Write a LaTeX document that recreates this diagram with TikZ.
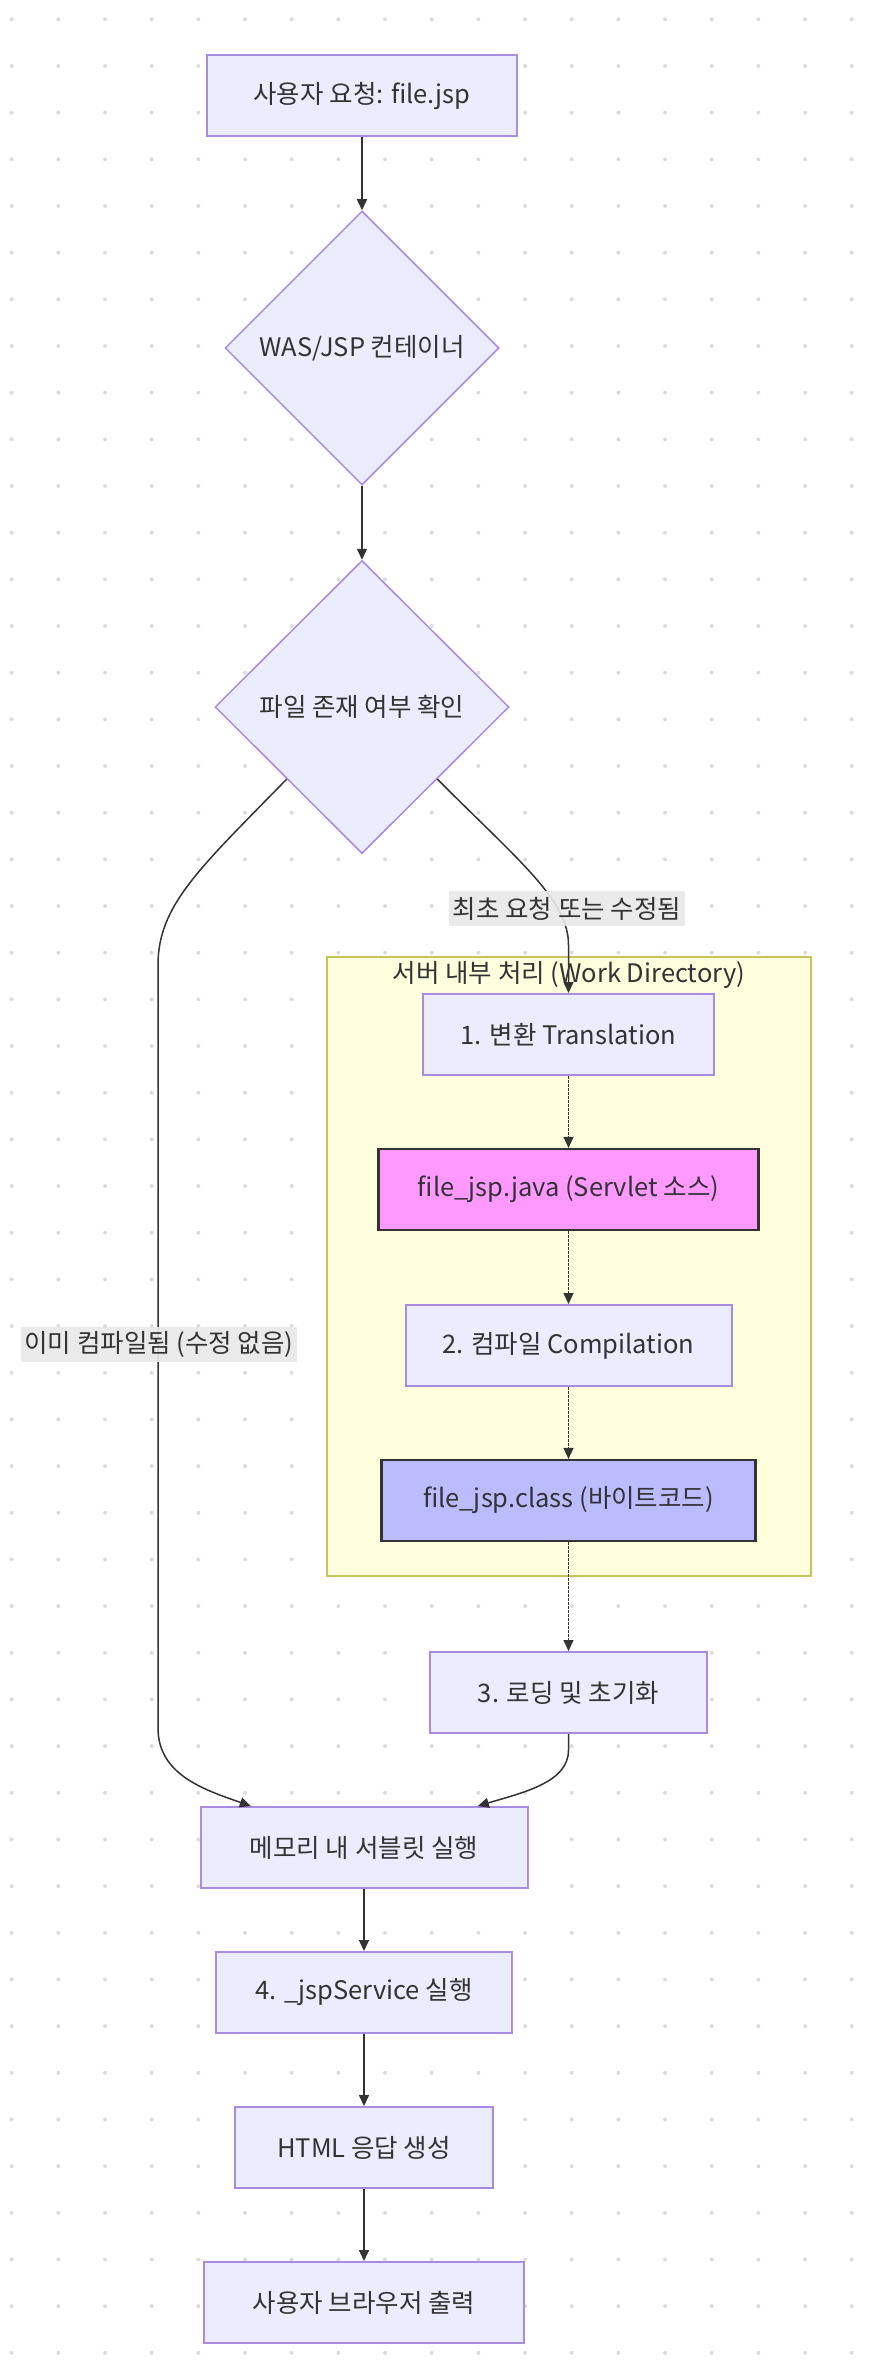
\documentclass[tikz,border=0pt]{standalone}
\usepackage{fontspec}
\setmainfont{Noto Sans CJK KR}
\usetikzlibrary{shapes.geometric,arrows.meta,calc}
\definecolor{nodefill}{HTML}{ECECFF}
\definecolor{nodeline}{HTML}{A98BE2}
\definecolor{edgecol}{HTML}{333333}
\definecolor{clusterfill}{HTML}{FFFFDE}
\definecolor{clusterline}{HTML}{C4C45A}
\definecolor{javafill}{HTML}{FF99FF}
\definecolor{classfill}{HTML}{BBBBFF}
\definecolor{labelbg}{HTML}{E8E8E8}
\definecolor{dotcol}{HTML}{DCDCDC}
\tikzset{
  txt/.style={font=\fontsize{25.5}{30}\selectfont, text=edgecol},
  box/.style={txt, rectangle, draw=nodeline, fill=nodefill, line width=2pt, minimum height=81pt, inner sep=0pt},
  dbox/.style={box, draw=edgecol, line width=2.2pt},
  decision/.style={txt, diamond, draw=nodeline, fill=nodefill, line width=1.5pt, inner sep=0pt, aspect=1},
  edgelabel/.style={txt, fill=labelbg, fill opacity=0.9, text opacity=1, minimum height=35pt, inner xsep=0pt, inner ysep=0pt},
  link/.style={draw=edgecol, line width=1.5pt, -{Triangle[length=11pt,width=10pt]}},
  dottedlink/.style={link, dash pattern=on 3pt off 1pt},
}
\begin{document}
\begin{tikzpicture}[x=1pt,y=-1pt]
\useasboundingbox (0,0) rectangle (871,2368);
\fill[white] (0,0) rectangle (871,2368);
% background dot grid
\foreach \i in {0,...,18}{
  \foreach \j in {0,...,50}{
    \fill[dotcol] (11.67+\i*46.67,19.3+\j*46.67) circle (2);
  }
}
% cluster
\node[draw=clusterline, fill=clusterfill, line width=1.5pt, rectangle, minimum width=484pt, minimum height=619pt, inner sep=0pt] (cluster) at (569,1266.5) {};
\node[txt] (ctitle) at (569,975) {서버 내부 처리 (Work Directory)};

% nodes
\node[box, minimum width=310pt] (req) at (362,95.5) {사용자 요청: file.jsp};
\node[decision, minimum width=274pt, minimum height=274pt] (was) at (362,348) {WAS/JSP 컨테이너};
\node[decision, minimum width=294pt, minimum height=293pt] (chk) at (362,707) {파일 존재 여부 확인};
\node[box, minimum width=291pt] (trans) at (568.5,1034.5) {1. 변환 Translation};
\node[dbox, fill=javafill, minimum width=380pt] (java) at (568.5,1189.5) {file\_jsp.java (Servlet 소스)};
\node[box, minimum width=326pt] (comp) at (568.5,1345.5) {2. 컴파일 Compilation};
\node[dbox, fill=classfill, minimum width=374pt] (cls) at (568.5,1500.5) {file\_jsp.class (바이트코드)};
\node[box, minimum width=277pt] (load) at (568.5,1692.5) {3. 로딩 및 초기화};
\node[box, minimum width=327pt] (mem) at (364,1847.5) {메모리 내 서블릿 실행};
\node[box, minimum width=296pt] (svc) at (364,1992.5) {4. \_jspService 실행};
\node[box, minimum width=258pt] (html) at (364,2147.5) {HTML 응답 생성};
\node[box, minimum width=320pt] (brow) at (364,2302.5) {사용자 브라우저 출력};

% helper coordinates
\coordinate (chkL) at ($(chk.west)!0.49!(chk.south)$);
\coordinate (chkR) at ($(chk.east)!0.49!(chk.south)$);
\coordinate (memL) at ($(mem.north west)!0.156!(mem.north east)$);
\coordinate (memR) at ($(mem.north west)!0.846!(mem.north east)$);

% edges
\draw[link] (req.south) -- (was.north);
\draw[link] (was.south) -- (chk.north);
\draw[link] (chkL) .. controls (200,868) and (158,905) .. (158,965) -- (158,1728) .. controls (158,1775) and (205,1790) .. (memL);
\draw[link] (chkR) .. controls (520,862) and (568.5,900) .. (568.5,945) -- (trans.north);
\draw[dottedlink] (trans.south) -- (java.north);
\draw[dottedlink] (java.south) -- (comp.north);
\draw[dottedlink] (comp.south) -- (cls.north);
\draw[dottedlink] (cls.south) -- (load.north);
\draw[link] (load.south) -- (568.5,1750) .. controls (568.5,1782) and (525,1792) .. (memR);
\draw[link] (mem.south) -- (svc.north);
\draw[link] (svc.south) -- (html.north);
\draw[link] (html.south) -- (brow.north);

% edge labels
\node[edgelabel, minimum width=236pt] (lab1) at (567,908.5) {최초 요청 또는 수정됨};
\node[edgelabel, minimum width=276pt] (lab2) at (159,1344.5) {이미 컴파일됨 (수정 없음)};
\end{tikzpicture}
\end{document}
